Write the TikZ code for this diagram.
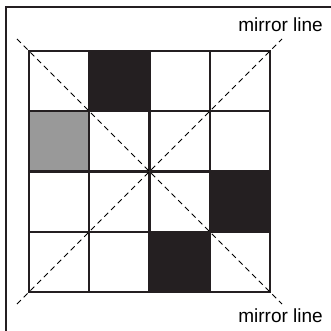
\documentclass[tikz,border=0pt]{standalone}
\usepackage{fontspec}
\setmainfont{Liberation Sans}
\definecolor{CellBlack}{rgb}{0.14, 0.12, 0.13}
\definecolor{CellGrey}{rgb}{0.60, 0.60, 0.60}
\usepackage{tikz}

\begin{document}
\begin{tikzpicture}[x=1pt, y=-1pt,
                    mirror/.style = {dashed, dash pattern = on 5.5pt off 4pt, line width = 1pt},
                    gridline/.style = {line width = 2.4pt, color = CellBlack},
                    label/.style = {font = \fontsize{19}{22}\selectfont, inner sep = 0pt}]
                                \useasboundingbox (0,0) rectangle (331,331);

                                % frame, cut by the page on the right and below
                                \draw[gridline] (6,331) -- (6,7) -- (331,7);

                                % shaded cells
                                \fill[CellBlack] (89.25,51) rectangle (149.5,111.25);
                                \fill[CellGrey] (29,111.25) rectangle (89.25,171.5);
                                \fill[CellBlack] (209.75,171.5) rectangle (270,231.75);
                                \fill[CellBlack] (149.5,231.75) rectangle (209.75,292);

                                % the 4 x 4 grid
                                \draw[gridline] (29,51) rectangle (270,292);
                                \draw[gridline] (89.25,51) -- (89.25,292);
                                \draw[gridline] (149.5,51) -- (149.5,292);
                                \draw[gridline] (209.75,51) -- (209.75,292);
                                \draw[gridline] (29,111.25) -- (270,111.25);
                                \draw[gridline] (29,171.5) -- (270,171.5);
                                \draw[gridline] (29,231.75) -- (270,231.75);

                                % mirror lines
                                \coordinate (tl) at (17,39);
                                \coordinate (br) at (282,304);
                                \coordinate (tr) at (282,39);
                                \coordinate (bl) at (17,304);
                                \draw[mirror] (tl) -- (br);
                                \draw[mirror] (bl) -- (tr);

                                \node[label, anchor = base east] (toplabel) at (323,32) {mirror line};
                                \node[label, anchor = base east] (botlabel) at (323,322.5) {mirror line};
                            \end{tikzpicture}
\end{document}
